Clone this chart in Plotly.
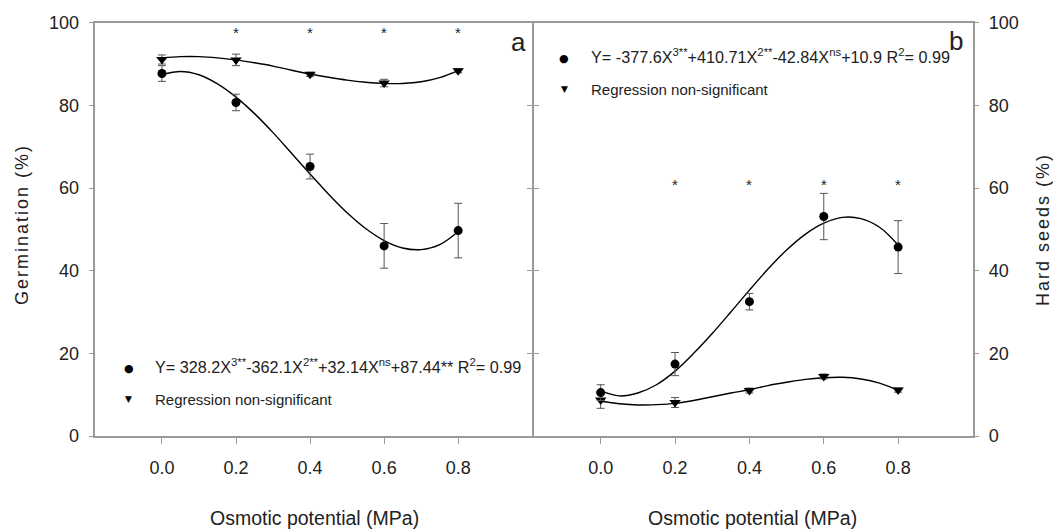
import plotly.graph_objects as go

# ---------------- data ----------------
osmotic = [0.0, 0.2, 0.4, 0.6, 0.8]
tick_text = ["0.0", "0.2", "0.4", "0.6", "0.8"]

# Panel a: germination (%)
germ_circle = [87.7, 80.7, 65.2, 46.0, 49.7]
germ_circle_err = [1.9, 2.0, 3.0, 5.4, 6.6]
germ_triangle = [91.1, 91.0, 87.5, 85.4, 88.4]
germ_triangle_err = [1.1, 1.4, 0.5, 0.9, 0.5]

# Panel b: hard seeds (%)
hard_circle = [10.5, 17.4, 32.5, 53.1, 45.7]
hard_circle_err = [1.9, 2.8, 2.0, 5.6, 6.4]
hard_triangle = [8.7, 8.1, 11.0, 14.4, 11.1]
hard_triangle_err = [2.0, 1.2, 0.6, 0.6, 0.5]

# fitted curves
curve_x = [0.0, 0.05, 0.1, 0.15, 0.2, 0.25, 0.3, 0.35, 0.4, 0.45, 0.5,
           0.55, 0.6, 0.65, 0.7, 0.75, 0.8]
germ_circle_curve = [87.4, 88.2, 87.4, 85.2, 82.0, 78.0, 73.4, 68.4, 63.4,
                     58.5, 54.0, 50.2, 47.3, 45.5, 45.1, 46.3, 49.5]
germ_triangle_curve = [91.5, 91.8, 91.8, 91.5, 91.0, 90.3, 89.5, 88.5, 87.6,
                       86.8, 86.1, 85.6, 85.3, 85.3, 85.7, 86.7, 88.4]
hard_circle_curve = [10.9, 9.7, 10.4, 12.4, 15.7, 20.0, 24.8, 30.0, 35.3,
                     40.4, 45.0, 48.8, 51.5, 52.9, 52.6, 50.5, 46.2]
hard_triangle_curve = [8.4, 7.8, 7.5, 7.6, 7.9, 8.6, 9.5, 10.4, 11.2,
                       12.2, 13.0, 13.7, 14.1, 14.2, 13.8, 12.8, 11.1]

# significance asterisks
sig_x = [0.2, 0.4, 0.6, 0.8]
sig_y_a = 97.7
sig_y_b = 60.9

eq_a = "Y= 328.2X<sup>3**</sup>-362.1X<sup>2**</sup>+32.14X<sup>ns</sup>+87.44** R<sup>2</sup>= 0.99"
eq_b = "Y= -377.6X<sup>3**</sup>+410.71X<sup>2**</sup>-42.84X<sup>ns</sup>+10.9 R<sup>2</sup>= 0.99"
ns_text = "Regression non-significant"

# ---------------- style ----------------
W, H = 1061, 531
OFF = 8  # page body margin in the browser
FONT = "Liberation Sans, Arial, sans-serif"
TXT = "#222222"
AX = "#9a9a9a"
ERR = "#555555"
LW = 1.5


def fx(xp):
    return (xp - OFF) / W


def fy(yp):
    return 1 - (yp - OFF) / H


fig = go.Figure()


def add_panel(xa, ya, c_y, c_err, t_y, t_err, c_curve, t_curve):
    for cv in (c_curve, t_curve):
        fig.add_trace(go.Scatter(x=curve_x, y=cv, mode="lines",
                                 line=dict(color="black", width=1.4, shape="spline", smoothing=1.0),
                                 xaxis=xa, yaxis=ya, showlegend=False, hoverinfo="skip"))
    fig.add_trace(go.Scatter(x=osmotic, y=t_y, mode="markers",
                             marker=dict(symbol="triangle-down", size=10, color="black"),
                             error_y=dict(type="data", array=t_err, color=ERR, thickness=1, width=4),
                             xaxis=xa, yaxis=ya, showlegend=False))
    fig.add_trace(go.Scatter(x=osmotic, y=c_y, mode="markers",
                             marker=dict(symbol="circle", size=9, color="black"),
                             error_y=dict(type="data", array=c_err, color=ERR, thickness=1, width=4),
                             xaxis=xa, yaxis=ya, showlegend=False))


add_panel("x", "y", germ_circle, germ_circle_err, germ_triangle, germ_triangle_err,
          germ_circle_curve, germ_triangle_curve)
add_panel("x2", "y2", hard_circle, hard_circle_err, hard_triangle, hard_triangle_err,
          hard_circle_curve, hard_triangle_curve)

y_bot, y_top = fy(436.0), fy(22.7)
dom_a = [fx(95.3), fx(533.0 - LW / 2)]
dom_b = [fx(533.0 + LW / 2), fx(972.5)]

common_x = dict(range=[-0.18, 1.0], tickvals=osmotic, ticktext=tick_text,
                ticks="outside", ticklen=6, tickcolor=AX, tickwidth=1.2,
                showline=True, linecolor=AX, linewidth=LW, mirror=True,
                showgrid=False, zeroline=False, ticklabelstandoff=9, automargin=False,
                tickfont=dict(family=FONT, size=18, color=TXT))
common_y = dict(range=[0, 100], tickvals=[0, 20, 40, 60, 80, 100],
                ticks="outside", ticklen=5, tickcolor=AX, tickwidth=1.2,
                showline=True, linecolor=AX, linewidth=LW, mirror="ticks",
                showgrid=False, zeroline=False, ticklabelstandoff=6, automargin=False,
                tickfont=dict(family=FONT, size=18, color=TXT),
                domain=[y_bot, y_top])

fig.update_layout(
    template="none",
    width=W, height=H,
    margin=dict(l=0, r=0, t=0, b=0, pad=0),
    paper_bgcolor="white", plot_bgcolor="white",
    xaxis=dict(domain=dom_a, anchor="y", **common_x),
    xaxis2=dict(domain=dom_b, anchor="y2", **common_x),
    yaxis=dict(anchor="x", side="left", **common_y),
    yaxis2=dict(anchor="x2", side="right", **common_y),
)

ann = []
# asterisks
for xv in sig_x:
    ann.append(dict(x=xv, y=sig_y_a, xref="x", yref="y", text="*", showarrow=False,
                    font=dict(family=FONT, size=15, color=TXT), yanchor="middle"))
    ann.append(dict(x=xv, y=sig_y_b, xref="x2", yref="y2", text="*", showarrow=False,
                    font=dict(family=FONT, size=15, color=TXT), yanchor="middle"))


def text_at(xp, yp, text, font, xanchor="left", yanchor="middle", angle=0):
    ann.append(dict(x=fx(xp), y=fy(yp), xref="paper", yref="paper", text=text,
                    showarrow=False, xanchor=xanchor, yanchor=yanchor,
                    textangle=angle, font=font))


# panel letters
text_at(518, 42, "a", dict(family=FONT, size=26, color=TXT), xanchor="center")
text_at(956, 41, "b", dict(family=FONT, size=26, color=TXT), xanchor="center")

# legends
sym_font_c = dict(family="DejaVu Sans", size=11, color="black")
sym_font_t = dict(family="DejaVu Sans", size=9, color="black")
eq_font = dict(family=FONT, size=16.2, color=TXT)
ns_font = dict(family=FONT, size=15, color=TXT)
text_at(128.6, 368.3, "●", sym_font_c, xanchor="center")
text_at(128.6, 399.3, "▼", sym_font_t, xanchor="center")
text_at(153, 366, eq_a, eq_font)
text_at(153, 399.3, ns_text, ns_font)

text_at(564, 58.3, "●", sym_font_c, xanchor="center")
text_at(564, 89.3, "▼", sym_font_t, xanchor="center")
text_at(589, 56, eq_b, eq_font)
text_at(589, 89.3, ns_text, ns_font)

# axis titles
title_font = dict(family=FONT, size=18, color=TXT)
text_at(22, 225, '<span style="letter-spacing:2px">Germination (%)</span>', title_font,
        xanchor="center", angle=-90)
text_at(1043, 230, '<span style="letter-spacing:2px">Hard seeds (%)</span>', title_font,
        xanchor="center", angle=-90)
xt_font = dict(family=FONT, size=19.5, color=TXT)
text_at(314, 518, "Osmotic potential (MPa)", xt_font, xanchor="center")
text_at(752, 518, "Osmotic potential (MPa)", xt_font, xanchor="center")

fig.update_layout(annotations=ann)
fig.write_html("out.html")
